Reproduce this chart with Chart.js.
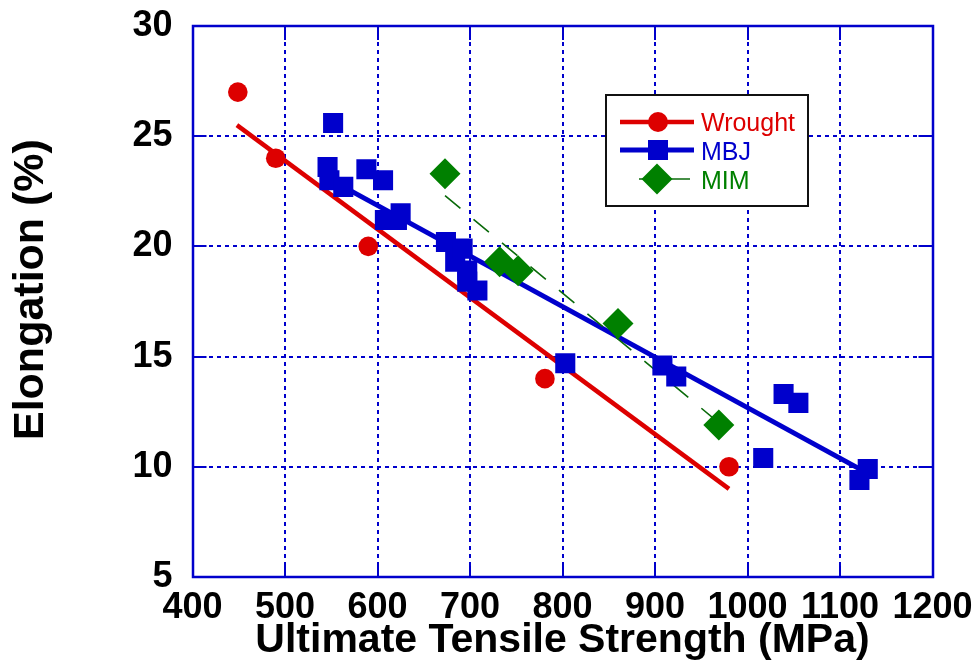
<!DOCTYPE html>
<html>
<head>
<meta charset="utf-8">
<script src="https://cdn.jsdelivr.net/npm/chart.js@4/dist/chart.umd.min.js"></script>
<style>
  html, body { margin: 0; padding: 0; background: #ffffff; }
  #wrap { width: 976px; height: 672px; }
</style>
</head>
<body>
<div id="wrap"><canvas id="c" width="976" height="672"></canvas></div>
<script>
// ---- data ----
const wroughtX = [449, 490, 590, 781, 980];
const wroughtY = [27.0, 24.0, 20.0, 14.0, 10.0];

const mbjX = [546, 548, 552, 563, 588, 606, 608, 621, 625, 674, 684, 692, 697, 697, 708, 803, 908, 923, 1017, 1039, 1055, 1121, 1130];
const mbjY = [23.6, 23.0, 25.6, 22.7, 23.5, 23.0, 21.2, 21.2, 21.5, 20.2, 19.3, 19.9, 18.9, 18.4, 18.0, 14.7, 14.6, 14.1, 10.4, 13.3, 12.9, 9.4, 9.9];

const mimX = [673, 732, 752, 860, 969];
const mimY = [23.3, 19.3, 18.9, 16.5, 11.9];

// trend lines (end points)
const wroughtFitX = [448, 980];
const wroughtFitY = [25.5, 9.0];
const mbjFitX = [546, 1130];
const mbjFitY = [23.1, 9.7];
const mimFitX = [673, 969];
const mimFitY = [22.3, 12.0];

const seriesNames = ['Wrought', 'MBJ', 'MIM'];
const xTitle = 'Ultimate Tensile Strength (MPa)';
const yTitle = 'Elongation (%)';
const xMin = 400, xMax = 1200, xStep = 100;
const yMin = 5, yMax = 30, yStep = 5;

const RED = '#dd0000';
const BLUE = '#0000cc';
const GREEN = '#008000';
const DGREEN = '#0a6a0a';
const FONT = '"Liberation Sans", Arial, Helvetica, sans-serif';

const pts = (xs, ys) => xs.map((x, i) => ({ x: x, y: ys[i] }));

// inside tick marks + full frame
const framePlugin = {
  id: 'frame',
  beforeDatasetsDraw(chart) {
    const { ctx, chartArea: a, scales } = chart;
    ctx.save();
    ctx.strokeStyle = BLUE;
    ctx.lineWidth = 2;
    ctx.setLineDash([]);
    const L = 14;
    ctx.beginPath();
    scales.y.ticks.forEach(t => {
      const p = Math.round(scales.y.getPixelForValue(t.value));
      ctx.moveTo(a.left, p); ctx.lineTo(a.left + L, p);
      ctx.moveTo(a.right, p); ctx.lineTo(a.right - L, p);
    });
    scales.x.ticks.forEach(t => {
      const p = Math.round(scales.x.getPixelForValue(t.value));
      ctx.moveTo(p, a.bottom); ctx.lineTo(p, a.bottom - L);
      ctx.moveTo(p, a.top); ctx.lineTo(p, a.top + L);
    });
    ctx.stroke();
    ctx.lineWidth = 2.5;
    ctx.strokeRect(Math.round(a.left), Math.round(a.top), Math.round(a.right - a.left), Math.round(a.bottom - a.top));
    ctx.restore();
  }
};

// legend box inside the plot, as in the reference
const legendPlugin = {
  id: 'boxLegend',
  afterDraw(chart) {
    const { ctx } = chart;
    ctx.save();
    const bx = 606, by = 95, bw = 202, bh = 111;
    ctx.fillStyle = '#ffffff';
    ctx.fillRect(bx, by, bw, bh);
    ctx.strokeStyle = '#111111';
    ctx.lineWidth = 2;
    ctx.strokeRect(bx, by, bw, bh);

    ctx.font = '25px ' + FONT;
    ctx.textBaseline = 'alphabetic';
    ctx.textAlign = 'left';

    // Wrought
    ctx.strokeStyle = RED; ctx.lineWidth = 4.5;
    ctx.beginPath(); ctx.moveTo(620, 122); ctx.lineTo(694, 122); ctx.stroke();
    ctx.fillStyle = RED;
    ctx.beginPath(); ctx.arc(658, 122, 10, 0, Math.PI * 2); ctx.fill();
    ctx.fillText(seriesNames[0], 701, 131);

    // MBJ
    ctx.strokeStyle = BLUE; ctx.lineWidth = 5;
    ctx.beginPath(); ctx.moveTo(620, 150); ctx.lineTo(694, 150); ctx.stroke();
    ctx.fillStyle = BLUE;
    ctx.fillRect(648, 140, 20, 20);
    ctx.fillText(seriesNames[1], 701, 160);

    // MIM
    ctx.strokeStyle = DGREEN; ctx.lineWidth = 1.5;
    ctx.beginPath(); ctx.moveTo(639, 179); ctx.lineTo(690, 179); ctx.stroke();
    ctx.fillStyle = GREEN;
    ctx.beginPath();
    ctx.moveTo(657 - 15.5, 179); ctx.lineTo(657, 179 - 15.5);
    ctx.lineTo(657 + 15.5, 179); ctx.lineTo(657, 179 + 15.5);
    ctx.closePath(); ctx.fill();
    ctx.fillText(seriesNames[2], 701, 189);
    ctx.restore();
  }
};

const ctx = document.getElementById('c').getContext('2d');
new Chart(ctx, {
  type: 'scatter',
  data: {
    datasets: [
      { label: seriesNames[2], data: pts(mimX, mimY), pointStyle: 'rectRot', pointRadius: 15.5,
        backgroundColor: GREEN, borderColor: GREEN, borderWidth: 0, showLine: false },
      { label: seriesNames[1], data: pts(mbjX, mbjY), pointStyle: 'rect', pointRadius: 14.2,
        backgroundColor: BLUE, borderColor: BLUE, borderWidth: 0, showLine: false },
      { label: seriesNames[0], data: pts(wroughtX, wroughtY), pointStyle: 'circle', pointRadius: 9.8,
        backgroundColor: RED, borderColor: RED, borderWidth: 0, showLine: false },
      { label: seriesNames[2] + ' fit', data: pts(mimFitX, mimFitY), showLine: true, pointRadius: 0,
        borderColor: DGREEN, borderWidth: 1.6, borderDash: [20, 17], fill: false },
      { label: seriesNames[1] + ' fit', data: pts(mbjFitX, mbjFitY), showLine: true, pointRadius: 0,
        borderColor: BLUE, borderWidth: 5, fill: false, borderCapStyle: 'butt' },
      { label: seriesNames[0] + ' fit', data: pts(wroughtFitX, wroughtFitY), showLine: true, pointRadius: 0,
        borderColor: RED, borderWidth: 4.5, fill: false, borderCapStyle: 'butt' }
    ]
  },
  options: {
    responsive: false,
    animation: false,
    devicePixelRatio: 1,
    layout: { padding: { left: 0, right: 43.5, top: 26, bottom: 0 } },
    plugins: {
      legend: { display: false },
      tooltip: { enabled: false }
    },
    scales: {
      x: {
        type: 'linear', min: xMin, max: xMax,
        afterFit(scale) {
          scale.height = 95;
          scale.paddingLeft = 0; scale.paddingRight = 0;
        },
        ticks: { stepSize: xStep, color: '#000000', padding: 9, maxRotation: 0, minRotation: 0,
                 autoSkip: false, callback: (v) => String(v),
                 font: { family: FONT, size: 36, weight: 'bold' } },
        grid: { color: BLUE, lineWidth: 2, drawTicks: false },
        border: { display: false, dash: [4, 4] },
        title: { display: true, text: xTitle, color: '#000000', padding: { top: 0, bottom: 7 },
                 font: { family: FONT, size: 41, weight: 'bold' } }
      },
      y: {
        type: 'linear', min: yMin, max: yMax,
        afterFit(scale) {
          scale.width = 192.5;
          scale.paddingTop = 0; scale.paddingBottom = 0;
        },
        ticks: { stepSize: yStep, color: '#000000', padding: 20, autoSkip: false,
                 callback: (v) => String(v),
                 font: { family: FONT, size: 36, weight: 'bold' } },
        grid: { color: BLUE, lineWidth: 2, drawTicks: false },
        border: { display: false, dash: [4, 4] },
        title: { display: true, text: '  ' + yTitle, color: '#000000', padding: { top: 5, bottom: 0 },
                 font: { family: FONT, size: 43, weight: 'bold' } }
      }
    }
  },
  plugins: [framePlugin, legendPlugin]
});
</script>
</body>
</html>
